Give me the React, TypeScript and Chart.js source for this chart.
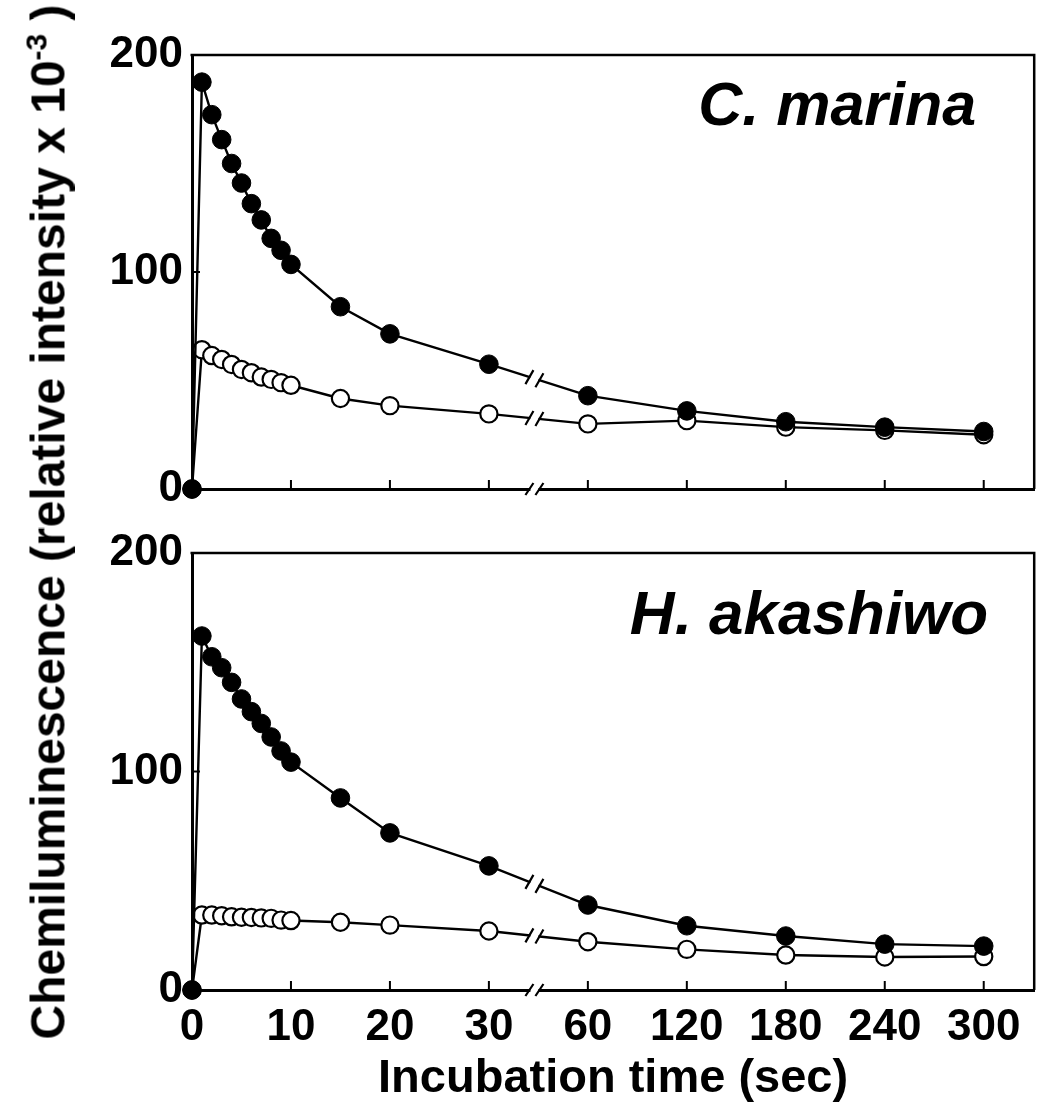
import React, { useEffect, useRef } from "react";
import { Chart, registerables } from "chart.js";

Chart.register(...registerables);

// ---------- data ----------
const times = [0, 1, 2, 3, 4, 5, 6, 7, 8, 9, 10, 15, 20, 30, 60, 120, 180, 240, 300];
const tickTimes = [0, 10, 20, 30, 60, 120, 180, 240, 300];
const yTickValues = [0, 100, 200];

const marinaFilled = [0, 187.5, 172.5, 161, 150, 141, 131.5, 124, 115.5, 110, 103.5, 84, 71.5, 57.5, 43, 36, 31, 28.5, 26.5];
const marinaOpen = [0, 64.2, 61.5, 59.7, 57.4, 55.1, 53.6, 51.6, 50.5, 49, 47.8, 41.7, 38.4, 34.6, 30, 31.5, 28.5, 27, 25];
const akashiwoFilled = [0, 162, 152.5, 147.5, 140.8, 133.2, 127.4, 122, 115.8, 109.4, 104.3, 87.9, 71.9, 56.8, 38.9, 29.4, 24.7, 21, 20.1];
const akashiwoOpen = [0, 34.3, 34.3, 34, 33.5, 33.3, 33.2, 33, 32.8, 32, 31.8, 31, 29.7, 27, 22.1, 18.6, 16, 15.1, 15.3];

const panelLabels = ["C. marina", "H. akashiwo"];
const xTitle = "Incubation time (sec)";
const yTitleMain = "Chemiluminescence (relative intensity x 10";
const yTitleSup = "-3";

// broken time axis: 0-30 s linear, then 60-300 s compressed (one tick step each)
const BREAK_LOW = 30;
const BREAK_HIGH = 60;
const toAxis = (t: number) => (t <= BREAK_LOW ? t : 40 + (t - BREAK_HIGH) / 6);
const BREAK_AXIS = 34.6;
const X_MAX = 85.1;

const FONT = '"Liberation Sans", Arial, Helvetica, sans-serif';

function makeDatasets(filled: number[], open: number[]) {
  return [
    {
      data: times.map((t, i) => ({ x: toAxis(t), y: filled[i] })),
      borderColor: "#000",
      borderWidth: 2.4,
      pointRadius: 9.3,
      pointBorderWidth: 1,
      pointBackgroundColor: "#000",
      pointBorderColor: "#000",
      tension: 0,
      clip: false as const,
      order: 0,
    },
    {
      data: times.map((t, i) => ({ x: toAxis(t), y: open[i] })),
      borderColor: "#000",
      borderWidth: 2.4,
      pointRadius: 8.6,
      pointBorderWidth: 2.2,
      pointBackgroundColor: "#fff",
      pointBorderColor: "#000",
      tension: 0,
      clip: false as const,
      order: 1,
    },
  ];
}

const panelPlugin = {
  id: "panelDecor",
  afterDraw(chart: any, _args: any, opts: any) {
    const { ctx, chartArea } = chart;
    const xs = chart.scales.x;
    const ys = chart.scales.y;
    const { left, right, top, bottom } = chartArea;
    ctx.save();
    ctx.strokeStyle = "#000";
    ctx.lineCap = "butt";
    // top and right frame
    ctx.lineWidth = 2.5;
    ctx.beginPath();
    ctx.moveTo(left - 1.5, top);
    ctx.lineTo(right, top);
    ctx.lineTo(right, bottom);
    ctx.stroke();
    // inward ticks
    ctx.lineWidth = 2;
    ctx.beginPath();
    xs.ticks.forEach((tk: any) => {
      if (tk.value === 0) return;
      const px = xs.getPixelForValue(tk.value);
      ctx.moveTo(px, bottom);
      ctx.lineTo(px, bottom - 9);
    });
    ys.ticks.forEach((tk: any) => {
      const py = ys.getPixelForValue(tk.value);
      ctx.moveTo(left, py);
      ctx.lineTo(left + 8, py);
    });
    ctx.stroke();
    // axis break
    const bx = xs.getPixelForValue(BREAK_AXIS);
    ctx.fillStyle = "#fff";
    ctx.fillRect(bx - 4, bottom - 3, 8, 6);
    ctx.lineWidth = 2.2;
    ctx.beginPath();
    [-5, 5].forEach((d) => {
      ctx.moveTo(bx + d - 4, bottom + 6);
      ctx.lineTo(bx + d + 4, bottom - 6);
    });
    ctx.stroke();
    // data-line breaks
    const i30 = times.indexOf(BREAK_LOW);
    const i60 = times.indexOf(BREAK_HIGH);
    chart.data.datasets.forEach((_ds: any, di: number) => {
      const meta = chart.getDatasetMeta(di);
      const a = meta.data[i30];
      const b = meta.data[i60];
      const slope = (b.y - a.y) / (b.x - a.x);
      const yAt = (x: number) => a.y + slope * (x - a.x);
      ctx.strokeStyle = "#fff";
      ctx.lineWidth = 5;
      ctx.beginPath();
      ctx.moveTo(bx - 4, yAt(bx - 4));
      ctx.lineTo(bx + 4, yAt(bx + 4));
      ctx.stroke();
      ctx.strokeStyle = "#000";
      ctx.lineWidth = 2.2;
      ctx.beginPath();
      [-5, 5].forEach((d) => {
        const cx = bx + d;
        const cy = yAt(cx);
        ctx.moveTo(cx - 4, cy + 7);
        ctx.lineTo(cx + 4, cy - 7);
      });
      ctx.stroke();
    });
    // species label
    ctx.fillStyle = "#000";
    ctx.font = `italic bold ${opts.size}px ${FONT}`;
    ctx.textAlign = "right";
    ctx.textBaseline = "alphabetic";
    ctx.fillText(opts.label, right - opts.dx, top + opts.dy);
    ctx.restore();
  },
};

function makeConfig(filled: number[], open: number[], bottomPanel: boolean, label: string, dx: number, dy: number, size: number): any {
  return {
    type: "line",
    data: { datasets: makeDatasets(filled, open) },
    plugins: [panelPlugin],
    options: {
      responsive: false,
      animation: false,
      events: [],
      layout: { padding: { top: bottomPanel ? 33 : 55, right: 9, left: 0, bottom: 0 } },
      plugins: {
        legend: { display: false },
        tooltip: { enabled: false },
        panelDecor: { label, dx, dy, size },
      },
      scales: {
        x: {
          type: "linear",
          min: 0,
          max: X_MAX,
          afterBuildTicks: (s: any) => {
            s.ticks = tickTimes.map((t) => ({ value: toAxis(t) }));
          },
          afterFit: (s: any) => {
            s.height = bottomPanel ? 115 : 27;
          },
          grid: { display: false, drawTicks: false },
          border: { display: true, width: 3, color: "#000" },
          ticks: {
            display: bottomPanel,
            color: "#000",
            font: { family: FONT, size: 44, weight: "bold", lineHeight: 1 },
            padding: 16,
            maxRotation: 0,
            autoSkip: false,
            callback: (_v: any, i: number) => String(tickTimes[i]),
          },
          title: {
            display: bottomPanel,
            text: xTitle,
            color: "#000",
            font: { family: FONT, size: 47, weight: "bold", lineHeight: 1 },
            padding: { top: 0, bottom: 2 },
          },
        },
        y: {
          min: 0,
          max: 200,
          afterBuildTicks: (s: any) => {
            s.ticks = yTickValues.map((v) => ({ value: v }));
          },
          afterFit: (s: any) => {
            s.width = 192;
          },
          grid: { display: false, drawTicks: false },
          border: { display: true, width: 3, color: "#000" },
          ticks: {
            color: "#000",
            font: { family: FONT, size: 44, weight: "bold", lineHeight: 1 },
            padding: 9,
          },
        },
      },
    },
  };
}

function Panel({ top, height, cfg }: { top: number; height: number; cfg: () => any }) {
  const ref = useRef<HTMLCanvasElement | null>(null);
  useEffect(() => {
    if (!ref.current) return;
    const chart = new Chart(ref.current, cfg());
    return () => chart.destroy();
  }, []);
  return (
    <canvas
      ref={ref}
      width={1045}
      height={height}
      style={{ position: "absolute", left: 0, top, width: 1045, height }}
    />
  );
}

export default function App() {
  return (
    <div style={{ position: "absolute", left: 0, top: 0, width: 1045, height: 1105, background: "#fff" }}>
      <Panel top={0} height={520} cfg={() => makeConfig(marinaFilled, marinaOpen, false, panelLabels[0], 58, 70, 61)} />
      <Panel top={520} height={585} cfg={() => makeConfig(akashiwoFilled, akashiwoOpen, true, panelLabels[1], 46, 81, 62)} />
      <div
        style={{
          position: "absolute",
          left: 47,
          top: 522,
          transform: "translate(-50%, -50%) rotate(-90deg)",
          whiteSpace: "nowrap",
          fontFamily: FONT,
          fontWeight: "bold",
          fontSize: 48,
          lineHeight: 1,
          color: "#000",
        }}
      >
        {yTitleMain}
        <sup style={{ fontSize: 30, verticalAlign: "0.6em" }}>{yTitleSup}</sup> )
      </div>
    </div>
  );
}
